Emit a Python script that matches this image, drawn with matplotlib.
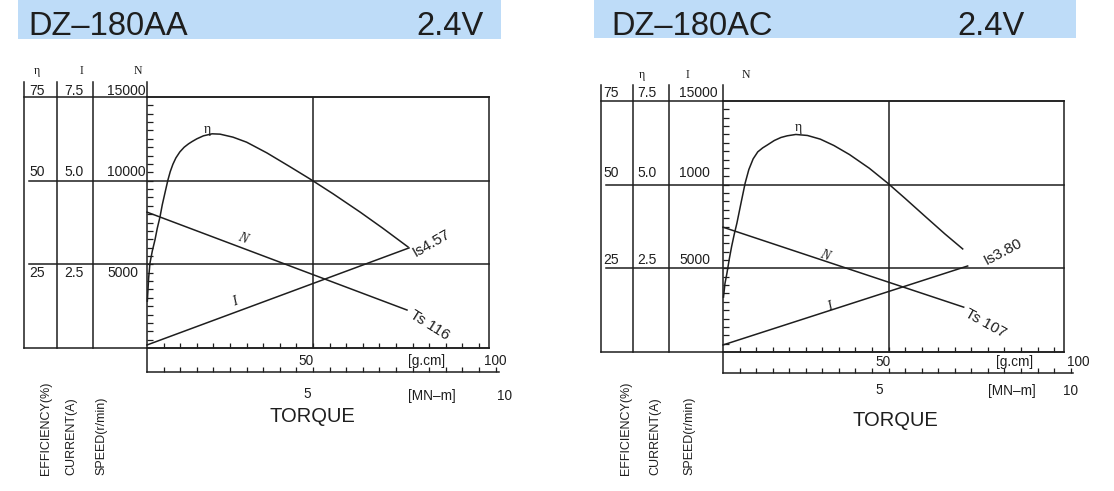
import matplotlib
matplotlib.use('Agg')
import matplotlib.pyplot as plt
from matplotlib.patches import Rectangle
import numpy as np

W, H = 1114, 491
fig = plt.figure(figsize=(W / 100, H / 100), dpi=100)
fig.patch.set_facecolor('white')

INK = '#1e1e1e'
SANS = 'Liberation Sans'
SERIF = 'Liberation Serif'
BANNER = '#BEDCF8'

# ---------------- data (torque in g.cm; efficiency %, speed r/min, current A)
# DZ-180AA
aa_eff_torque = [0.1, 0.5, 0.9, 1.6, 2.4, 3.1, 3.9, 4.6, 5.4, 6.3, 7.0, 7.8, 8.7, 9.9, 11.2,
                 12.5, 13.6, 15.0, 17.0, 19.6, 22.0, 25.9, 30.0, 36.1, 43.0, 49.1, 56.0, 64.2, 71.0, 78.6]
aa_eff = [14.0, 21.0, 25.4, 29.0, 32.3, 35.8, 39.1, 42.8, 46.3, 50.2, 52.7, 54.9, 56.8, 58.6, 60.0,
          61.0, 61.7, 62.5, 63.4, 64.0, 63.9, 63.0, 61.5, 58.3, 54.2, 50.5, 46.1, 40.6, 35.8, 30.2]
aa_speed_torque = [0.0, 78.3]
aa_speed = [8120, 2270]
aa_current_torque = [0.0, 78.9]
aa_current = [0.09, 2.99]

# DZ-180AC
ac_eff_torque = [0.15, 0.6, 1.2, 1.9, 2.6, 3.4, 4.2, 5.5, 6.7, 7.8, 9.1, 10.5, 12.0, 13.3, 15.5,
                 17.5, 19.4, 22.0, 25.5, 29.4, 33.5, 38.2, 44.2, 49.7, 55.0, 61.2, 67.0, 72.4]
ac_eff = [16.4, 20.5, 23.6, 27.8, 31.5, 35.2, 38.5, 44.8, 50.5, 54.5, 57.7, 59.8, 61.0, 61.8, 63.2,
          64.1, 64.6, 65.0, 64.7, 63.6, 61.7, 59.0, 54.9, 50.5, 45.9, 40.4, 35.3, 30.8]
ac_speed_torque = [0.0, 72.7]
ac_speed = [7460, 2680]
ac_current_torque = [0.0, 73.9]
ac_current = [0.21, 2.57]

eff_ticks = [25, 50, 75]
cur_ticks = [2.5, 5.0, 7.5]
aa_speed_ticks = ['5000', '10000', '15000']
ac_speed_ticks = ['5000', '1000', '15000']


def fx(x):
    return x / W


def fy(y):
    return 1 - y / H


def ftext(x, y, s, **kw):
    kw.setdefault('family', SANS)
    kw.setdefault('color', INK)
    fig.text(fx(x), fy(y), s, **kw)


def draw_chart(c, eff_T, eff_v, n_T, n_v, i_T, i_v, title, speed_labels, ts_label, is_label):
    L, R, T, B = c['box']
    XMAX = 103.0
    # banner
    bx0, bx1, by1 = c['banner']
    fig.add_artist(Rectangle((fx(bx0), fy(by1)), (bx1 - bx0) / W, by1 / H,
                             transform=fig.transFigure, color=BANNER, lw=0, zorder=0))
    ftext(c['title_x'], 35, title, fontsize=23.5, va='baseline', ha='left')
    ftext(c['volt_x'], 35, '2.4V', fontsize=23.5, va='baseline', ha='left')

    ax = fig.add_axes([fx(L), fy(B), (R - L) / W, (B - T) / H])
    ax.set_xlim(0, XMAX)
    ax.set_ylim(0, 75)
    ax.patch.set_alpha(0)
    for s in ax.spines.values():
        s.set_linewidth(1.1)
        s.set_color(INK)
    ax.set_xticks(np.arange(5, 101, 5))
    ax.set_yticks(np.arange(2.5, 75, 2.5))
    ax.tick_params(axis='x', direction='in', length=3.6, width=0.9, color=INK, labelbottom=False)
    ax.tick_params(axis='y', direction='in', length=4.4, width=0.9, color=INK, labelleft=False)

    lw = 1.1
    # table / grid lines
    tl = c['table_x'][0]
    gl = c['grid_x']
    ax.axhline(75, xmin=-(L - tl) / (R - L), xmax=1, clip_on=False, color=INK, lw=lw)
    ax.axhline(0, xmin=-(L - tl) / (R - L), xmax=1, clip_on=False, color=INK, lw=lw)
    for v in (25, 50):
        ax.axhline(v, xmin=-(L - gl) / (R - L), xmax=1, clip_on=False, color=INK, lw=lw)
    ax.axvline(50, color=INK, lw=lw)
    ytop = (B - c['table_top']) / (B - T)
    for x in c['table_x']:
        xa = (x - L) / (R - L)
        ax.plot([xa, xa], [0, ytop], transform=ax.transAxes, clip_on=False, color=INK, lw=lw)
    ax.plot([0, 0], [1, ytop], transform=ax.transAxes, clip_on=False, color=INK, lw=lw)

    # curves
    ax.plot(eff_T, eff_v, color=INK, lw=1.1, clip_on=False, solid_joinstyle='round')
    ax.plot(n_T, np.array(n_v) / 200.0, color=INK, lw=1.1, clip_on=False)
    ax.plot(i_T, np.array(i_v) * 10.0, color=INK, lw=1.1, clip_on=False)

    # lower torque axis
    lowY, lowR = c['low']
    ax2 = fig.add_axes([fx(L), fy(lowY), (lowR - L) / W, (lowY - B) / H])
    ax2.set_xlim(0, XMAX * (lowR - L) / (R - L))
    ax2.set_ylim(0, 1)
    ax2.patch.set_alpha(0)
    ax2.spines['top'].set_visible(False)
    ax2.spines['right'].set_visible(False)
    for s in ('left', 'bottom'):
        ax2.spines[s].set_linewidth(1.1)
        ax2.spines[s].set_color(INK)
    ax2.set_xticks(np.arange(5, 106, 5))
    ax2.set_yticks([])
    ax2.tick_params(axis='x', direction='in', length=3.6, width=0.9, color=INK, labelbottom=False)

    # header letters
    for (x, y), s in zip(c['heads'], ['\u03b7', 'I', 'N']):
        ftext(x, y, s, family=SERIF, fontsize=8.5, ha='center', va='center')
    # row labels (rows given for 25, 50, 75)
    cols = c['cols']
    rows = c['rows']
    for k, (e, cur, sp) in enumerate(zip(eff_ticks, cur_ticks, speed_labels)):
        y = rows[k]
        ftext(cols[0], y, f'{e}', fontsize=10, ha='left', va='center')
        ftext(cols[1], y, f'{cur:.1f}', fontsize=10, ha='left', va='center')
        ftext(cols[2], y, sp, fontsize=10, ha='left', va='center')

    # bottom texts
    for (x, y), s in zip(c['btm'], ['50', '[g.cm]', '100', '5', '[MN\u2013m]', '10']):
        ftext(x, y, s, fontsize=9.8, ha='center', va='center')
    tx, ty = c['torque']
    ftext(tx, ty, 'TORQUE', fontsize=14.5, ha='center', va='center')
    for x, s in zip(c['vlab_x'], ['EFFICIENCY(%)', 'CURRENT(A)', 'SPEED(r/min)']):
        ftext(x, 475, s, fontsize=9, rotation=90, ha='center', va='bottom')

    # curve labels
    ex, ey = c['eta_lab']
    ftext(ex, ey, '\u03b7', family=SERIF, fontsize=10, ha='center', va='center')
    nx, ny = c['n_lab']
    ftext(nx, ny, 'N', family=SERIF, style='italic', fontsize=10, rotation=-20, ha='center', va='center')
    ix, iy = c['i_lab']
    ftext(ix, iy, 'I', family=SERIF, style='italic', fontsize=10, rotation=20, ha='center', va='center')
    (sx, sy, sr) = c['is_lab']
    ftext(sx, sy, is_label, fontsize=11, rotation=sr, ha='center', va='center')
    (sx, sy, sr) = c['ts_lab']
    ftext(sx, sy, ts_label, fontsize=11, rotation=sr, ha='center', va='center')


left_cfg = dict(
    box=(147, 489, 97, 348), banner=(18, 501, 39), title_x=28, volt_x=416,
    table_x=[24, 57, 93], table_top=82, grid_x=29, low=(372, 499),
    heads=[(37, 71), (81, 71), (138, 71)], cols=[29, 64, 107], rows=[273, 172, 91],
    btm=[(306, 361), (427, 361), (495, 361), (307, 394), (432, 396), (505, 396)],
    torque=(312, 417), vlab_x=[46, 71, 101],
    eta_lab=(207, 129), n_lab=(243, 238), i_lab=(235, 302),
    is_lab=(431, 243, 30), ts_lab=(430, 325, -32),
)
right_cfg = dict(
    box=(723, 1064, 101, 352), banner=(594, 1076, 38), title_x=611, volt_x=957,
    table_x=[601, 633, 669], table_top=85, grid_x=606, low=(373, 1073),
    heads=[(642, 75), (687, 75), (746, 75)], cols=[603, 637, 679], rows=[260, 173, 93],
    btm=[(883, 362), (1015, 362), (1078, 362), (879, 390), (1012, 391), (1070, 391)],
    torque=(895, 420), vlab_x=[626, 655, 689],
    eta_lab=(798, 128), n_lab=(825, 255), i_lab=(830, 307),
    is_lab=(1003, 252, 28), ts_lab=(986, 323, -29),
)

draw_chart(left_cfg, aa_eff_torque, aa_eff, aa_speed_torque, aa_speed,
           aa_current_torque, aa_current, 'DZ\u2013180AA', aa_speed_ticks, 'Ts 116', 'Is4.57')
draw_chart(right_cfg, ac_eff_torque, ac_eff, ac_speed_torque, ac_speed,
           ac_current_torque, ac_current, 'DZ\u2013180AC', ac_speed_ticks, 'Ts 107', 'Is3.80')

fig.savefig('out.png', dpi=100, facecolor='white')
